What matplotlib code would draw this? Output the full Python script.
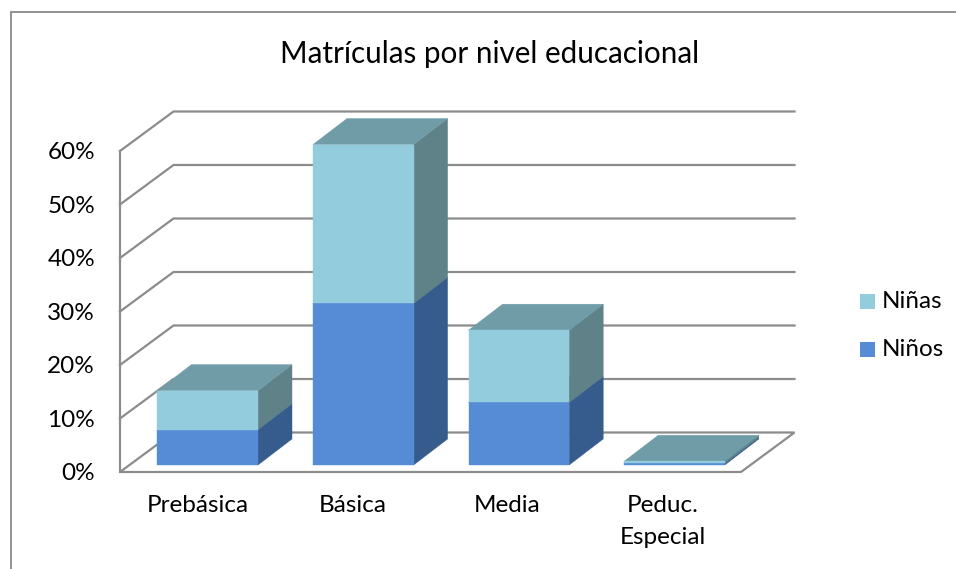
import matplotlib
matplotlib.use("Agg")
import matplotlib.pyplot as plt
from matplotlib.patches import Polygon, Rectangle

plt.rcParams['font.family'] = ['Lato', 'DejaVu Sans']

categories = ["Prebásica", "Básica", "Media", "Peduc.\nEspecial"]
ninos = [6.6, 30.2, 11.7, 0.3]
ninas = [7.3, 29.7, 13.5, 0.4]
yticks = [0, 10, 20, 30, 40, 50, 60]
ytick_labels = ["0%", "10%", "20%", "30%", "40%", "50%", "60%"]
title = "Matrículas por nivel educacional"

W, H = 956, 569
PX_X = 155.6          # pixels per category
PX_Y = 5.35           # pixels per percentage point
X0, Y0 = 197.5, 472   # pixel of category 0 / of 0 % on the front plane

fig = plt.figure(figsize=(W / 100, H / 100), dpi=100)
ax = fig.add_axes([0, 0, 1, 1])
ax.set_xlim((0 - X0) / PX_X, (W - X0) / PX_X)
ax.set_ylim((Y0 - H) / PX_Y, Y0 / PX_Y)
ax.set_axis_off()

DX, DY = 53.5 / PX_X, 39.5 / PX_Y    # full depth of the floor
left_edge = (120 - X0) / PX_X
right_edge = (741 - X0) / PX_X
half_w = 50.3 / PX_X
BAR_SHIFT_X, BAR_SHIFT_Y = 10.2 / PX_X, 7 / PX_Y   # front face offset from front plane
BX, BY = 34 / PX_X, 26 / PX_Y                      # bar depth

GRID = "#8c8c8c"


def depth(x, y, d):
    return x + DX * d, y + DY * d


# outer frame: left and top only
fx = [10.5 / W, 10.5 / W, 1.0]
fy = [0, 1 - 12 / H, 1 - 12 / H]
ax.plot(fx, fy, transform=ax.transAxes, color="#8a8a8a", lw=1.3, clip_on=False,
        solid_joinstyle="miter")

# gridlines
for t in yticks[1:]:
    xa, ya = depth(left_edge, t, 0)
    xb, yb = depth(left_edge, t, 1)
    xc, yc = depth(right_edge, t, 1)
    ax.plot([xa, xb, xc], [ya, yb, yc], color=GRID, lw=1.6, solid_joinstyle="miter", zorder=1)
ax.plot([left_edge, left_edge], [0, yticks[-1]], color=GRID, lw=1.6, zorder=1)
fl = [depth(left_edge, 0, 0), depth(right_edge, 0, 0), depth(right_edge, 0, 1), depth(left_edge, 0, 1)]
ax.add_patch(Polygon(fl, closed=True, fill=False, edgecolor=GRID, lw=1.6, joinstyle="miter", zorder=1))

# palette: (front, side, top)
C_NINOS = ("#568bd6", "#355c8c", "#41688f")
C_NINAS = ("#93cddd", "#5f8289", "#709ca8")


def box(xc, y0, y1, cols, z):
    xl = xc - half_w + BAR_SHIFT_X
    xr = xc + half_w + BAR_SHIFT_X
    b0, b1 = y0 + BAR_SHIFT_Y, y1 + BAR_SHIFT_Y
    fa = [(xl, b0), (xr, b0), (xr, b1), (xl, b1)]
    side = [(xr, b0), (xr + BX, b0 + BY), (xr + BX, b1 + BY), (xr, b1)]
    top = [(xl, b1), (xr, b1), (xr + BX, b1 + BY), (xl + BX, b1 + BY)]
    ax.add_patch(Polygon(side, closed=True, fc=cols[1], ec=cols[1], lw=0.3, zorder=z))
    ax.add_patch(Polygon(top, closed=True, fc=cols[2], ec=cols[2], lw=0.3, zorder=z))
    ax.add_patch(Polygon(fa, closed=True, fc=cols[0], ec=cols[0], lw=0.3, zorder=z + 0.1))


for i, (a, b) in enumerate(zip(ninos, ninas)):
    box(i, 0, a, C_NINOS, 3)
    box(i, a, a + b, C_NINAS, 3.5)

# tick labels
for t, lab in zip(yticks, ytick_labels):
    ax.text((95 - X0) / PX_X, t - 0.3, lab, ha="right", va="center", fontsize=17.5, color="black")
for i, lab in enumerate(categories):
    lines = lab.split("\n")
    for j, line in enumerate(lines):
        ax.text(i - 0.004 * i, (Y0 - 506 - 32 * j) / PX_Y, line, ha="center", va="center",
                fontsize=17.5, color="black")

# title
ax.text((490 - X0) / PX_X, (Y0 - 54) / PX_Y, title, ha="center", va="center", fontsize=21.3, color="black")

# legend
for lab, col, py in [("Niñas", C_NINAS[0], 301), ("Niños", C_NINOS[0], 349)]:
    ax.add_patch(Rectangle(((860 - X0) / PX_X, (Y0 - py - 7.5) / PX_Y), 15 / PX_X, 15 / PX_Y,
                           fc=col, ec="none", zorder=5))
    ax.text((882 - X0) / PX_X, (Y0 - py) / PX_Y, lab, ha="left", va="center", fontsize=17.5, color="black")

fig.savefig("out.png", dpi=100, facecolor="white")
